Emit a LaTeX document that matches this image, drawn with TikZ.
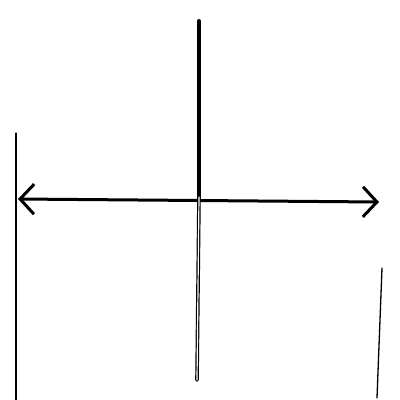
\documentclass[tikz,border=0pt]{standalone}
\usepackage{tikz}
\usetikzlibrary{arrows.meta}

\begin{document}
\begin{tikzpicture}[x=1pt,y=-1pt,line cap=round,
  axisline/.style={line width=3pt},
  thinline/.style={line width=1.3pt},
  hollowline/.style={line width=1.2pt,double,double distance=1.2pt}]
  \useasboundingbox[fill=white] (0,0) rectangle (400,400);
  % ---------------- named points ----------------
  \coordinate (left) at (18,199);
  \coordinate (right) at (379,202);
  \coordinate (top) at (199,21);
  \coordinate (mid) at (199,200);
  \coordinate (bottom) at (197,380);
  \coordinate (lefttop) at (16,133);
  \coordinate (leftbot) at (16,400);
  \coordinate (righttop) at (382,268);
  \coordinate (rightbot) at (377,398);
  % ---------------- axes ----------------
  \draw[axisline,{Straight Barb[length=14pt,width=30pt]}-{Straight Barb[length=14pt,width=30pt]}] (left) -- (right);
  \draw[line width=4pt] (top) -- (mid);
  \draw[hollowline] ([yshift=3pt]mid) -- (bottom);
  % ---------------- side lines ----------------
  \draw[thinline] (lefttop) -- (leftbot);
  \draw[thinline] (righttop) -- (rightbot);
\end{tikzpicture}
\end{document}
